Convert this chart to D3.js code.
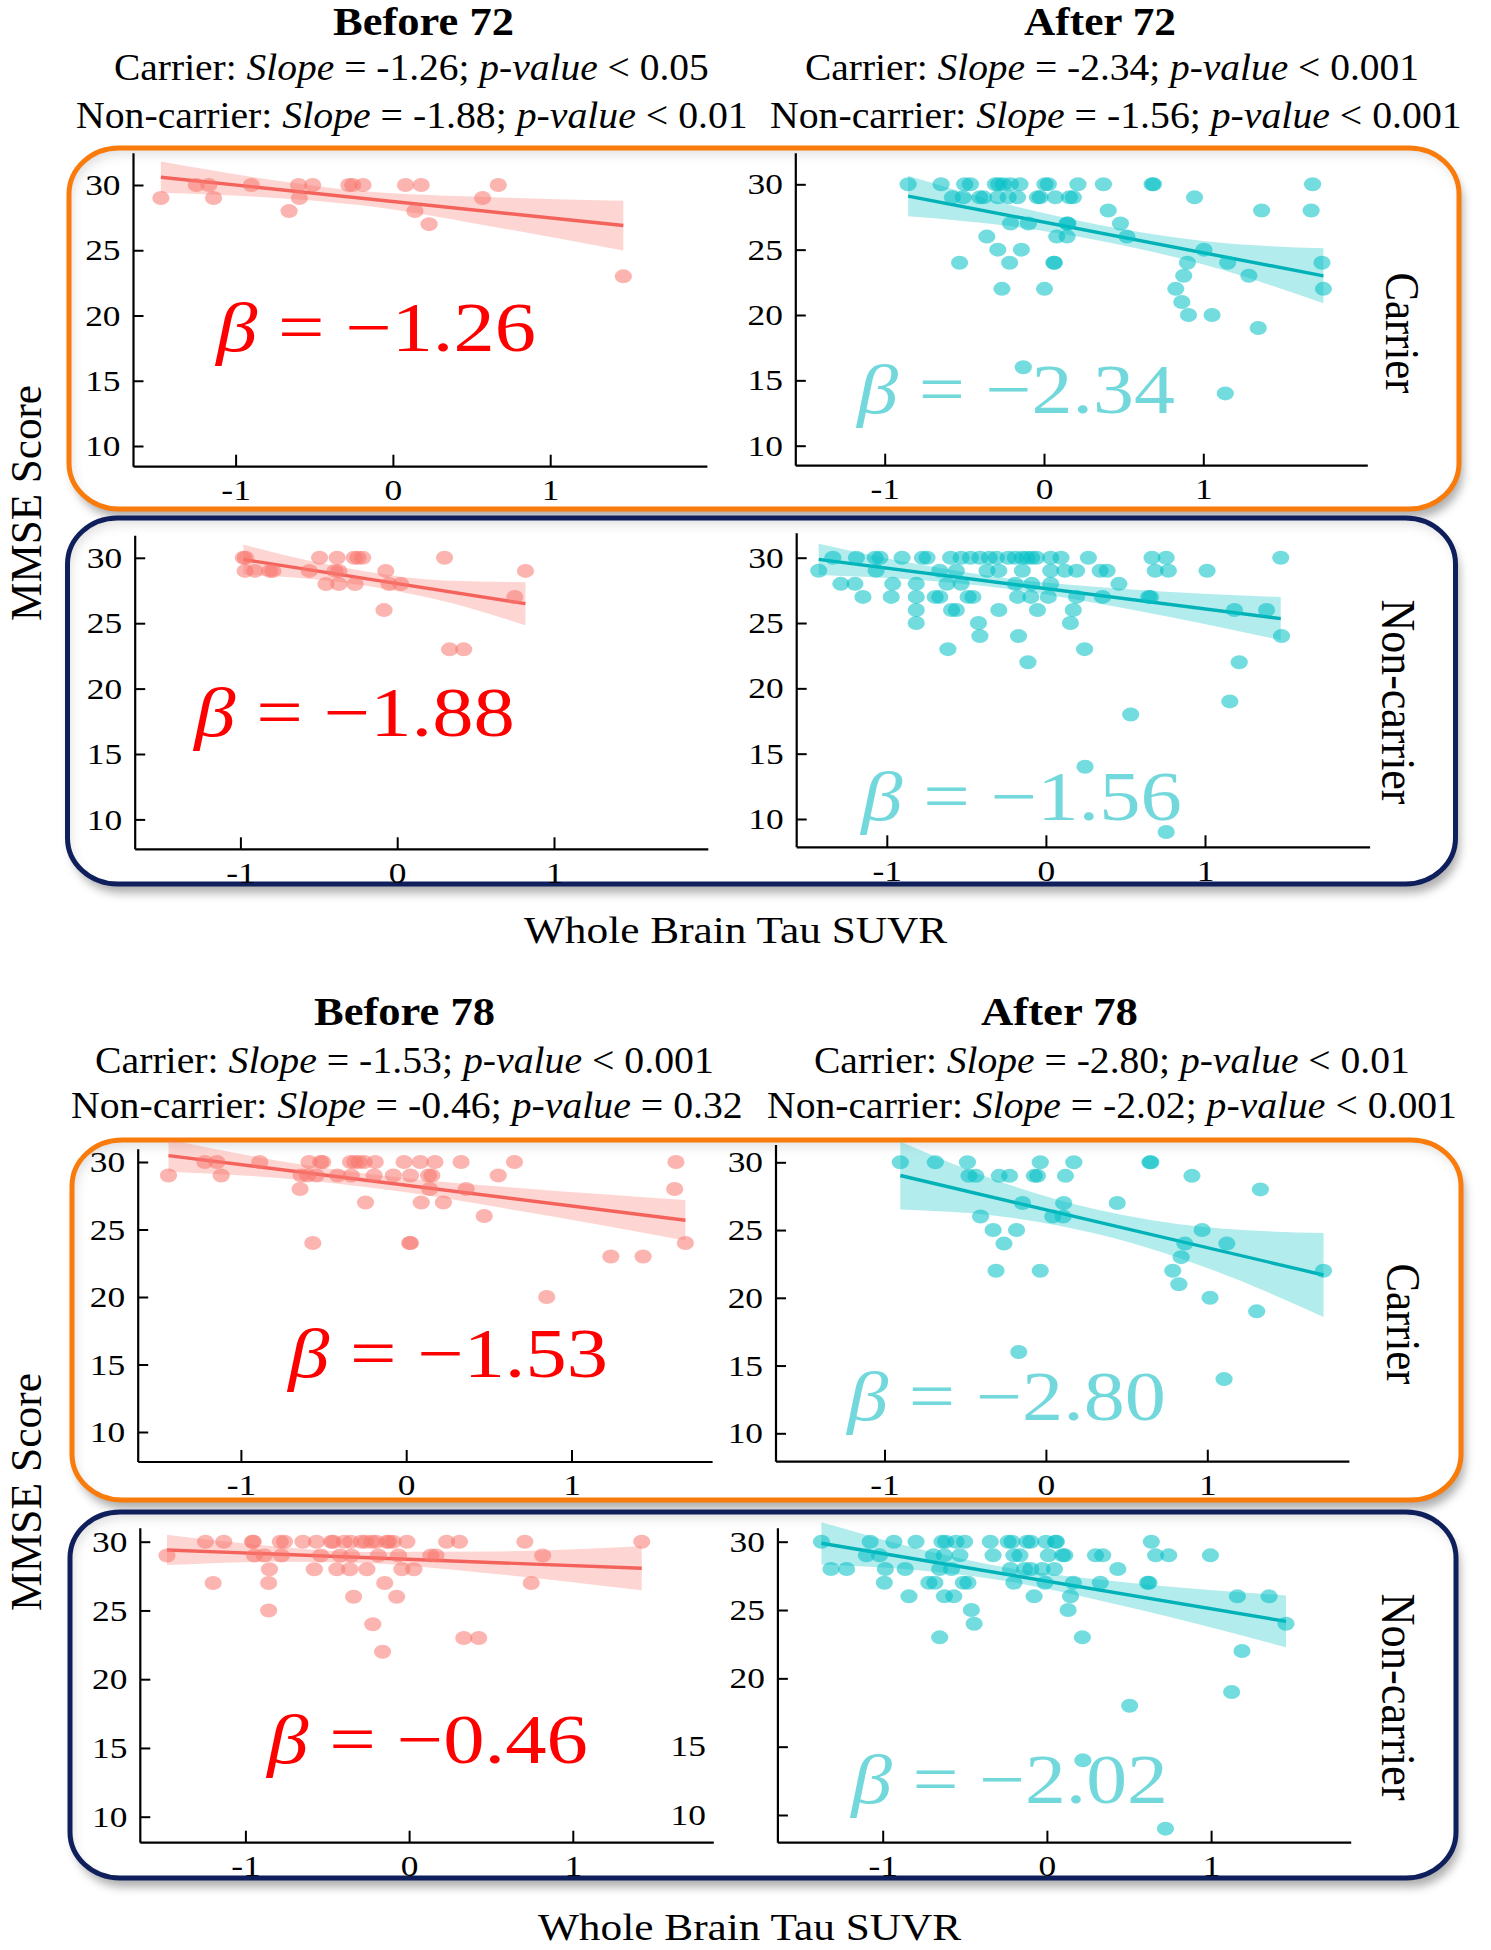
<!DOCTYPE html>
<html><head><meta charset="utf-8">
<script src="https://cdn.jsdelivr.net/npm/d3@7"></script>
<style>html,body{margin:0;padding:0;background:#fff;} svg{display:block;} text{white-space:pre;}</style>
</head><body><svg id="c" width="1491" height="1950"></svg>
<script>
// ---------------- DATA ----------------
const groupNames = ["Before 72", "After 72", "Before 78", "After 78"];
const carrierSlopeText = ["-1.26", "-2.34", "-1.53", "-2.80"];
const carrierPText = ["< 0.05", "< 0.001", "< 0.001", "< 0.01"];
const nonCarrierSlopeText = ["-1.88", "-1.56", "-0.46", "-2.02"];
const nonCarrierPText = ["< 0.01", "< 0.001", "= 0.32", "< 0.001"];
const rowLabels = ["Carrier", "Non-carrier", "Carrier", "Non-carrier"];
const xAxisTitle = "Whole Brain Tau SUVR";
const yAxisTitle = "MMSE Score";
const xTicks = [-1, 0, 1];
const xTickLabels = ["-1", "0", "1"];
const yTicks = [10, 15, 20, 25, 30];
const strayLabels = [15, 10];

// points [SUVR, MMSE]
const before72Carrier = [[-1.475,29],[-1.25,30],[-1.17,30],[-1.14,29],[-0.90,30],[-0.66,28],[-0.60,30],[-0.595,29],[-0.51,30],[-0.28,30],[-0.255,30],[-0.19,30],[0.08,30],[0.18,30],[0.14,28],[0.23,27],[0.57,29],[0.67,30],[1.465,23]];
const after72Carrier = [[-0.853,30],[-0.646,30],[-0.498,30],[-0.462,30],[-0.305,30],[-0.284,30],[-0.255,30],[-0.211,30],[-0.151,30],[0.006,30],[0.027,30],[0.213,30],[0.373,30],[0.679,30],[0.687,30],[1.686,30],
 [-0.575,29],[-0.507,29],[-0.403,29],[-0.379,29],[-0.290,29],[-0.225,29],[-0.166,29],[-0.041,29],[-0.024,29],[0.071,29],[0.160,29],[0.184,29],[0.945,29],
 [0.403,28],[1.366,28],[1.677,28],
 [-0.210,27],[-0.098,27],[0.145,27],[0.150,27],[0.480,27],
 [-0.359,26],[0.080,26],[0.145,26],[0.521,26],
 [-0.290,25],[-0.142,25],[1.004,25],
 [-0.530,24],[-0.216,24],[0.062,24],[0.065,24],[0.900,24],[1.153,24],[1.745,24],
 [0.877,23],[1.286,23],
 [-0.264,22],[0.003,22],[0.827,22],[1.754,22],
 [0.865,21],[0.907,20],[1.055,20],[1.345,19],[-0.130,16],[1.138,14]];
const before72NonCarrier = [[-0.981,30],[-0.967,30],[-0.495,30],[-0.383,30],[-0.274,30],[-0.250,30],[-0.220,30],[0.302,30],
 [-0.970,29],[-0.908,29],[-0.813,29],[-0.793,29],[-0.560,29],[-0.397,29],[-0.372,29],[-0.073,29],[0.818,29],
 [-0.454,28],[-0.372,28],[-0.269,28],[-0.052,28],[0.022,28],
 [0.750,27],[-0.084,26],[0.334,23],[0.424,23]];
const after72NonCarrier = [[-1.339,30],[-1.191,30],[-1.073,30],[-1.043,30],[-0.904,30],[-0.776,30],[-0.747,30],[-0.599,30],[-0.533,30],[-0.474,30],[-0.415,30],[-0.356,30],[-0.311,30],[-0.237,30],[-0.193,30],[-0.148,30],[-0.119,30],[-0.089,30],[-0.059,30],[0.030,30],[0.095,30],[0.267,30],[0.667,30],[0.756,30],[1.476,30],
 [-1.428,29],[-1.067,29],[-0.667,29],[-0.563,29],[-0.370,29],[-0.296,29],[-0.148,29],[0.030,29],[0.119,29],[0.193,29],[0.341,29],[0.385,29],[0.687,29],[0.770,29],[1.013,29],
 [-1.289,28],[-1.200,28],[-0.963,28],[-0.815,28],[-0.622,28],[-0.533,28],[-0.193,28],[-0.089,28],[0.030,28],[0.459,28],
 [-1.150,27],[-0.972,27],[-0.815,27],[-0.696,27],[-0.667,27],[-0.489,27],[-0.459,27],[-0.178,27],[-0.095,27],[0.015,27],[0.193,27],[0.356,27],[0.646,27],[0.658,27],
 [-0.815,26],[-0.593,26],[-0.563,26],[-0.296,26],[-0.053,26],[0.172,26],[1.185,26],[1.387,26],
 [-0.815,25],[-0.424,25],[0.154,25],
 [-0.415,24],[-0.172,24],[1.481,24],
 [-0.616,23],[0.243,23],[-0.113,22],[1.215,22],[1.156,19],[0.533,18],[0.246,14],[0.756,9]];
const before78Carrier = [[-1.218,30],[-1.145,30],[-0.886,30],[-0.588,30],[-0.518,30],[-0.505,30],[-0.337,30],[-0.311,30],[-0.285,30],[-0.254,30],[-0.187,30],[-0.013,30],[0.085,30],[0.174,30],[0.332,30],[0.655,30],[1.632,30],
 [-1.438,29],[-1.119,29],[-0.635,29],[-0.596,29],[-0.544,29],[-0.415,29],[-0.332,29],[-0.194,29],[-0.078,29],[0.026,29],[0.135,29],[0.155,29],[0.557,29],
 [-0.642,28],[0.142,28],[0.363,28],[1.624,28],
 [-0.246,27],[0.091,27],[0.225,27],[0.472,26],
 [-0.565,24],[0.021,24],[0.026,24],[1.689,24],
 [1.238,23],[1.433,23],[0.850,20]];
const after78Carrier = [[-0.902,30],[-0.685,30],[-0.486,30],[-0.035,30],[0.173,30],[0.645,30],[0.650,30],
 [-0.477,29],[-0.434,29],[-0.289,29],[-0.225,29],[-0.072,29],[-0.052,29],[0.121,29],[0.905,29],
 [1.329,28],[-0.145,27],[0.110,27],[0.442,27],
 [-0.405,26],[0.043,26],[0.107,26],
 [-0.327,25],[-0.182,25],[0.968,25],
 [-0.260,24],[0.861,24],[1.121,24],[0.838,23],
 [-0.309,22],[-0.035,22],[0.786,22],[1.720,22],
 [0.824,21],[1.017,20],[1.306,19],[-0.168,16],[1.104,14]];
const before78NonCarrier = [[-1.244,30],[-1.132,30],[-0.957,30],[-0.952,30],[-0.787,30],[-0.761,30],[-0.649,30],[-0.566,30],[-0.475,30],[-0.462,30],[-0.396,30],[-0.357,30],[-0.292,30],[-0.266,30],[-0.227,30],[-0.201,30],[-0.136,30],[-0.123,30],[-0.097,30],[-0.013,30],[0.229,30],[0.308,30],[0.707,30],[1.421,30],
 [-1.479,29],[-0.944,29],[-0.884,29],[-0.780,29],[-0.540,29],[-0.422,29],[-0.352,29],[-0.188,29],[-0.065,29],[0.133,29],[0.164,29],[0.816,29],
 [-0.853,28],[-0.579,28],[-0.441,28],[-0.362,28],[-0.258,28],[-0.044,28],[0.029,28],
 [-1.197,27],[-0.858,27],[-0.149,27],[0.746,27],
 [-0.339,26],[-0.076,26],[-0.858,25],[-0.222,24],[0.334,23],[0.425,23],[-0.162,22]];
const after78NonCarrier = [[-1.373,30],[-1.076,30],[-0.932,30],[-0.797,30],[-0.639,30],[-0.616,30],[-0.553,30],[-0.501,30],[-0.345,30],[-0.236,30],[-0.213,30],[-0.121,30],[-0.098,30],[-0.006,30],[0.052,30],[0.058,30],[0.636,30],
 [-1.099,29],[-1.019,29],[-0.691,29],[-0.624,29],[-0.530,29],[-0.328,29],[-0.201,29],[-0.164,29],[0.009,29],[0.095,29],[0.109,29],[0.296,29],[0.340,29],[0.662,29],[0.742,29],[0.996,29],
 [-1.315,28],[-1.220,28],[-0.984,28],[-0.863,28],[-0.653,28],[-0.581,28],[-0.222,28],[-0.135,28],[-0.098,28],[-0.029,28],[0.046,28],[0.432,28],
 [-0.990,27],[-0.719,27],[-0.682,27],[-0.509,27],[-0.481,27],[-0.201,27],[-0.012,27],[0.161,27],[0.325,27],[0.613,27],[0.622,27],
 [-0.840,26],[-0.624,26],[-0.567,26],[-0.078,26],[0.144,26],[1.160,26],[1.353,26],
 [-0.460,25],[0.129,25],[-0.443,24],[1.456,24],[-0.653,23],[0.216,23],[1.188,22],[1.125,19],[0.504,18],[0.219,14],[0.722,9]];

// panel order: B72 carrier, A72 carrier, B72 non-carrier, A72 non-carrier, B78 carrier, A78 carrier, B78 non, A78 non
const panelPoints = [before72Carrier, after72Carrier, before72NonCarrier, after72NonCarrier, before78Carrier, after78Carrier, before78NonCarrier, after78NonCarrier];
const slopes = [-1.26, -2.34, -1.88, -1.56, -1.53, -2.80, -0.46, -2.02];
const intercepts = [28.74, 27.10, 28.03, 27.64, 28.27, 26.50, 28.72, 27.11];
const bandX = [[-1.475,-0.8,-0.2,0.6,1.465],[-0.853,-0.2,0.35,1.0,1.754],[-0.981,-0.5,-0.2,0.3,0.818],[-1.428,-0.8,-0.25,0.5,1.476],
               [-1.438,-0.7,-0.1,0.7,1.689],[-0.902,-0.3,0.3,1.0,1.72],[-1.479,-0.8,-0.3,0.5,1.421],[-1.373,-0.8,-0.3,0.5,1.456]];
const bandLo = [[29.40,29.05,28.44,26.88,24.99],[27.55,26.77,25.68,23.86,20.90],[28.72,28.32,27.86,26.67,24.84],[28.67,28.29,27.63,26.11,23.69],
                [29.27,28.74,27.92,26.35,24.19],[26.51,26.04,24.76,22.20,18.58],[28.30,28.54,28.46,27.69,26.47],[28.33,27.93,27.22,25.20,22.27]];
const bandHi = [[31.80,30.45,29.54,29.08,28.79],[30.65,28.37,26.88,25.66,25.10],[31.02,29.62,28.96,28.27,28.14],[31.07,29.49,28.43,27.61,26.99],
                [31.67,29.94,28.92,28.05,27.19],[31.51,28.64,26.56,25.20,24.78],[30.50,29.64,29.26,29.29,29.67],[31.43,29.53,28.22,27.00,26.07]];

// ---------------- LAYOUT ----------------
const W = 1491, H = 1950;
const SERIF = "'Liberation Serif','Times New Roman',serif";
const ORANGE = "#F97B0C", NAVY = "#0F1F5C";
const COL = { before: {pt:"#F8766D", line:"#F4625C", beta:"#FF0000"}, after: {pt:"#00BFC4", line:"#00B2B7", beta:"#72D8DB"} };
const layout = [
 {x0:392.9,x1:550.2,left:133.5,right:707.4,y30:185.0,y10:446.0,top:153.3,axisY:466.7},
 {x0:1044.0,x1:1203.3,left:795.8,right:1367.8,y30:184.3,y10:445.7,top:153.3,axisY:465.7},
 {x0:397.2,x1:554.0,left:135.2,right:708.3,y30:557.8,y10:819.4,top:535.7,axisY:849.3},
 {x0:1045.9,x1:1205.0,left:796.7,right:1370.1,y30:557.7,y10:819.0,top:533.3,axisY:847.3},
 {x0:406.2,x1:571.5,left:138.2,right:712.6,y30:1162.0,y10:1432.0,top:1149.3,axisY:1462.0},
 {x0:1045.9,x1:1207.3,left:776.0,right:1349.4,y30:1162.3,y10:1433.3,top:1145.0,axisY:1461.7},
 {x0:409.1,x1:572.8,left:140.3,right:713.8,y30:1541.7,y10:1816.7,top:1528.3,axisY:1842.7},
 {x0:1046.9,x1:1211.1,left:777.9,right:1351.2,y30:1541.7,y10:1815.0,top:1528.3,axisY:1842.7}
];
const betaPos = [[214,536,351],[855,1175,413],[192,515,736],[859,1182,820],[286,608,1377],[845,1166,1420],[265,588,1763],[849,1168,1803]];
const boxes = [
 {x:69,y:148,w:1390,h:361,c:ORANGE},{x:67.5,y:518,w:1388,h:366,c:NAVY},
 {x:72,y:1140,w:1389,h:360,c:ORANGE},{x:70,y:1512,w:1386,h:366,c:NAVY}
];
const titleSpans = [[333,514,35],[1024,1176,35],[314,495,1025],[981,1138,1025]];
const line1Spans = [[114,709,80],[805,1419,80],[95,714,1073],[814,1410,1073]];
const line2Spans = [[76,748,128],[770,1462,128],[71,743,1118],[767,1457,1118]];

const svg = d3.select("#c");
const defs = svg.append("defs");
defs.html(`
<filter id="drop" x="-5%" y="-10%" width="112%" height="125%">
  <feGaussianBlur in="SourceAlpha" stdDeviation="5"/>
  <feOffset dx="4" dy="9" result="ob"/>
  <feFlood flood-color="#000" flood-opacity="0.32"/>
  <feComposite in2="ob" operator="in"/>
  <feMerge><feMergeNode/><feMergeNode in="SourceGraphic"/></feMerge>
</filter>
<filter id="inset" x="-5%" y="-10%" width="110%" height="120%">
  <feFlood flood-color="#000" flood-opacity="0.28" result="fl"/>
  <feComposite in="fl" in2="SourceAlpha" operator="out" result="outside"/>
  <feGaussianBlur in="outside" stdDeviation="6" result="bl"/>
  <feOffset in="bl" dx="3" dy="6" result="of"/>
  <feComposite in="of" in2="SourceAlpha" operator="in" result="inner"/>
  <feMerge><feMergeNode in="SourceGraphic"/><feMergeNode in="inner"/></feMerge>
</filter>`);

svg.append("rect").attr("width", W).attr("height", H).attr("fill", "#fff");

function fitText(parent, parts, o) {
  const t = parent.append("text").attr("font-family", SERIF).attr("font-size", o.size)
    .attr("font-weight", o.weight || "normal").attr("fill", o.fill || "#000")
    .attr("text-anchor", o.rot ? "middle" : "start");
  parts.forEach(p => t.append("tspan").text(p[0]).attr("font-style", p[1] ? "italic" : "normal"));
  const bb = t.node().getBBox();
  const s = o.len / bb.width;
  if (o.rot) t.attr("transform", `translate(${o.x},${o.y}) rotate(${o.rot}) scale(${s},1)`);
  else t.attr("transform", `translate(${o.x - bb.x * s},${o.y}) scale(${s},1)`);
  return t;
}

boxes.forEach(b => {
  svg.append("rect").attr("x", b.x).attr("y", b.y).attr("width", b.w).attr("height", b.h)
    .attr("rx", 50).attr("ry", 46).attr("fill", "#fff").attr("filter", "url(#drop)");
  svg.append("rect").attr("x", b.x).attr("y", b.y).attr("width", b.w).attr("height", b.h)
    .attr("rx", 50).attr("ry", 46).attr("fill", "#fff").attr("filter", "url(#inset)");
  svg.append("rect").attr("x", b.x).attr("y", b.y).attr("width", b.w).attr("height", b.h)
    .attr("rx", 50).attr("ry", 46).attr("fill", "none").attr("stroke", b.c).attr("stroke-width", 5);
});

groupNames.forEach((name, k) => {
  const ts = titleSpans[k], l1 = line1Spans[k], l2 = line2Spans[k];
  fitText(svg, [[name, false]], {x: ts[0], y: ts[2], len: ts[1] - ts[0], size: 40, weight: "bold"});
  fitText(svg, [["Carrier: ", false], ["Slope", true], [" = " + carrierSlopeText[k] + "; ", false], ["p-value", true], [" " + carrierPText[k], false]],
    {x: l1[0], y: l1[2], len: l1[1] - l1[0], size: 38});
  fitText(svg, [["Non-carrier: ", false], ["Slope", true], [" = " + nonCarrierSlopeText[k] + "; ", false], ["p-value", true], [" " + nonCarrierPText[k], false]],
    {x: l2[0], y: l2[2], len: l2[1] - l2[0], size: 38});
});

fitText(svg, [[xAxisTitle, false]], {x: 524, y: 943, len: 424, size: 38});
fitText(svg, [[xAxisTitle, false]], {x: 538, y: 1940, len: 424, size: 38});
fitText(svg, [[yAxisTitle, false]], {x: 41, y: 503, len: 236, size: 44, rot: -90});
fitText(svg, [[yAxisTitle, false]], {x: 41, y: 1492, len: 238, size: 44, rot: -90});
const rowPos = [[1386, 333, 121], [1382, 702, 205], [1387, 1324, 121], [1382, 1697, 207]];
rowLabels.forEach((lab, k) => {
  fitText(svg, [[lab, false]], {x: rowPos[k][0], y: rowPos[k][1], len: rowPos[k][2], size: 48, rot: 90});
});

panelPoints.forEach((pts, i) => {
  const L = layout[i];
  const kind = (i % 2 === 0) ? COL.before : COL.after;
  const ux = L.x1 - L.x0;
  const x = d3.scaleLinear().domain([(L.left - L.x0) / ux, (L.right - L.x0) / ux]).range([L.left, L.right]);
  const uy = (L.y10 - L.y30) / 20;
  const y = d3.scaleLinear().domain([30 - (L.axisY - L.y30) / uy, 30 + (L.y30 - L.top) / uy]).range([L.axisY, L.top]);
  const g = svg.append("g");

  const bp = betaPos[i];
  fitText(g, [["β", true], [" = " + d3.format(".2f")(slopes[i]), false]], {x: bp[0], y: bp[2], len: bp[1] - bp[0], size: 70, fill: kind.beta});

  const bx = bandX[i], lo = bandLo[i], hi = bandHi[i];
  g.append("path").datum(d3.range(bx.length))
    .attr("d", d3.area().x(k => x(bx[k])).y0(k => y(lo[k])).y1(k => y(hi[k])).curve(d3.curveMonotoneX))
    .attr("fill", kind.pt).attr("fill-opacity", 0.3);
  const xa = bx[0], xb = bx[bx.length - 1];
  g.append("line").attr("x1", x(xa)).attr("y1", y(intercepts[i] + slopes[i] * xa))
    .attr("x2", x(xb)).attr("y2", y(intercepts[i] + slopes[i] * xb))
    .attr("stroke", kind.line).attr("stroke-width", 3.4);
  g.selectAll("ellipse.pt").data(pts).join("ellipse").attr("class", "pt")
    .attr("cx", d => x(d[0])).attr("cy", d => y(d[1])).attr("rx", 8.6).attr("ry", 7)
    .attr("fill", kind.pt).attr("fill-opacity", 0.55);

  const axB = d3.axisBottom(x).tickValues(xTicks).tickFormat((d, k) => xTickLabels[k])
    .tickSizeInner(-12).tickSizeOuter(0).tickPadding(12);
  const axL = d3.axisLeft(y).tickValues(yTicks).tickFormat(d => (i === 7 && d < 20) ? "" : d)
    .tickSizeInner(-10).tickSizeOuter(0).tickPadding(11);
  const gx = g.append("g").attr("transform", `translate(0,${L.axisY})`).call(axB);
  const gy = g.append("g").attr("transform", `translate(${L.left},0)`).call(axL);
  [gx, gy].forEach(a => {
    a.select(".domain").attr("stroke", "#000").attr("stroke-width", 2.2);
    a.selectAll(".tick line").attr("stroke", "#000").attr("stroke-width", 2);
    a.selectAll(".tick text").attr("font-family", SERIF).attr("font-size", 30).attr("fill", "#000")
      .attr("transform", "scale(1.18,1)");
  });
  gx.select(".domain").attr("d", `M${L.left},0H${L.right}`);
  gy.select(".domain").attr("d", `M0,${L.axisY}V${L.top}`);

  if (i === 7) {
    strayLabels.forEach(v => {
      g.append("text").attr("font-family", SERIF).attr("font-size", 30).attr("text-anchor", "end")
        .attr("dy", "0.32em").attr("transform", `translate(706,${y(v)}) scale(1.18,1)`).text(v);
    });
  }
});
</script></body></html>
